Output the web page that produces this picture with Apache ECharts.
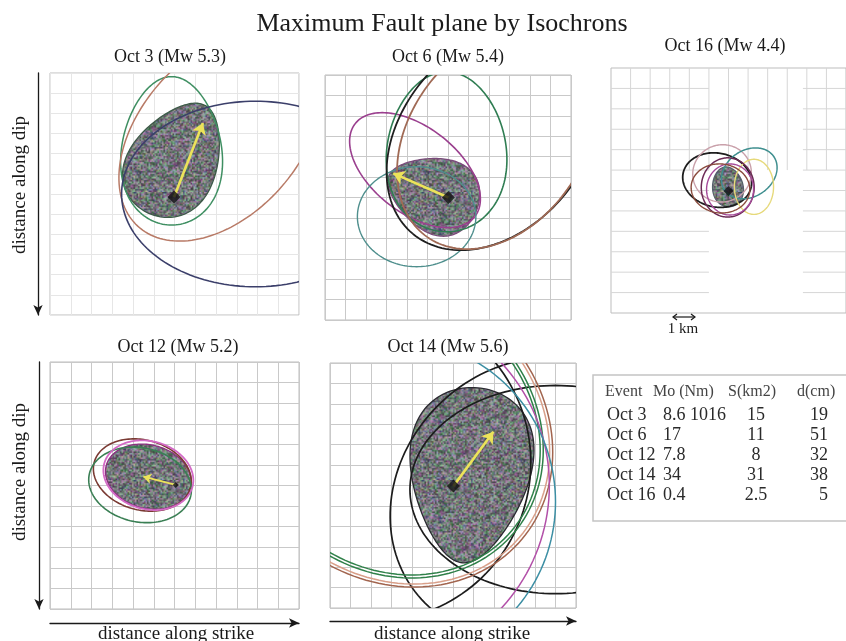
<!DOCTYPE html>
<html>
<head>
<meta charset="utf-8">
<script src="https://cdn.jsdelivr.net/npm/echarts@6/dist/echarts.min.js"></script>
<style>
  html, body { margin: 0; padding: 0; background: #ffffff; }
  #chart { width: 846px; height: 641px; }
</style>
</head>
<body>
<div id="chart"></div>
<script>
// ---- Catalogue of the five events ----
const events     = ['Oct 3', 'Oct 6', 'Oct 12', 'Oct 14', 'Oct 16'];
const magnitudes = ['5.3', '5.4', '5.2', '5.6', '4.4'];
const moments    = ['8.6 1016', '17', '7.8', '34', '0.4'];
const areas      = ['15', '11', '8', '31', '2.5'];
const slips      = ['19', '51', '32', '38', '5'];
const tableHeader = ['Event', 'Mo (Nm)', 'S(km2)', 'd(cm)'];

// ---- Isochrons, in fault-plane cells (strike x, dip y) ----
// each: [centre strike, centre dip, semi-axis a, semi-axis b, tilt deg, egg]
const oct3Isochrons = [
  [5.86, 3.86, 3.68, 2.43, -90, 0.15],
  [8.2, 3.1, 6.0, 3.9, 130, 0],
  [9.9, 6.0, 6.45, 4.6, 0, 0]
];
const oct6Isochrons = [
  [4.39, 4.66, 3.7, 2.1, 38, 0],
  [5.93, 3.76, 3.92, 2.93, -90, 0.1],
  [4.47, 6.94, 2.89, 2.45, 0, 0],
  [8.2, 3.1, 6.1, 4.45, 130, 0],
  [8.35, 3.15, 5.85, 4.25, 125, 0]
];
const oct16Isochrons = [
  [5.42, 5.49, 1.77, 1.32, 10, 0],
  [5.67, 5.16, 1.5, 1.4, -10, 0],
  [7.06, 5.16, 1.5, 1.15, -30, 0],
  [7.3, 5.82, 1.0, 1.35, 0, 0],
  [5.96, 5.85, 1.35, 1.45, 0, 0],
  [6.08, 5.95, 1.2, 1.25, 0, 0],
  [5.59, 5.9, 1.5, 1.2, 5, 0]
];
const oct12Isochrons = [
  [4.45, 5.49, 2.4, 1.7, 15, 0],
  [4.34, 5.97, 2.5, 1.8, 12, 0],
  [4.74, 5.5, 2.2, 1.65, 15, 0]
];
const oct14Isochrons = [
  [9.8, 6.6, 7.3, 6.4, -45, 0],
  [2.14, 4.92, 7.75, 7.65, 103, 0],
  [11.0, 6.2, 7.1, 5.1, 0, 0],
  [3.0, 3.3, 7.8, 6.8, 40, 0],
  [3.0, 3.3, 7.65, 6.65, 40, 0],
  [3.0, 3.3, 8.3, 7.2, 40, 0],
  [3.0, 3.3, 8.15, 7.05, 40, 0],
  [2.0, 6.0, 8.7, 8.8, 0, 0],
  [3.2, 6.8, 7.8, 7.94, 0, 0]
];

// ---- Maximum fault plane of each event (same form) ----
const oct3Plane  = [6.05, 4.25, 3.0, 2.1, -62, 0.25];
const oct6Plane  = [5.25, 5.8, 2.3, 1.8, -158, 0.3];
const oct16Plane = [5.96, 5.82, 0.98, 0.78, -100, 0.1];
const oct12Plane = [4.74, 5.57, 2.1, 1.54, 15, 0];
const oct14Plane = [6.83, 5.5, 4.3, 2.9, 95, 0.3];

// ---- Hypocentre and rupture-direction tip ----
const oct3Hypo  = [5.98, 6.15];  const oct3Tip  = [7.37, 2.48];
const oct6Hypo  = [6.02, 6.0];   const oct6Tip  = [3.33, 4.82];
const oct16Hypo = [6.0, 6.02];   const oct16Tip = null;
const oct12Hypo = [6.06, 5.97];  const oct12Tip = [4.5, 5.57];
const oct14Hypo = [6.02, 6.03];  const oct14Tip = [7.97, 3.37];

// Visible pieces of the Oct 16 mesh: [x from, x to, y from, y to, verticals, horizontals]
const oct16Mesh = [
  [0, 5, 0, 5, 1, 1],
  [5, 9, 0, 5, 1, 0],
  [9.8, 12, 0, 5, 1, 1],
  [0, 5, 5, 12, 0, 1],
  [9.8, 12, 5, 12, 0, 1]
];

// ---- Panel layout and styling ----
const panels = [
  { ev: 0, box: [50, 73, 249, 242], titleAt: [170, 57], curves: oct3Isochrons,
    colors: ['#3f8f62', '#b87a66', '#3b3f6a'], widths: [1.5, 1.5, 1.6],
    plane: oct3Plane, planeEdge: '#3d5a48', hypo: oct3Hypo, tip: oct3Tip, mark: 13,
    mesh: '#e6e6e6', dipAxis: 12, strikeAxis: 0 },
  { ev: 1, box: [325, 75, 246, 245], titleAt: [448, 57], curves: oct6Isochrons,
    colors: ['#9a3f8e', '#2f7d52', '#4f8f8d', '#1f1f1f', '#a06a55'], widths: [1.6, 1.6, 1.4, 1.8, 1.8],
    plane: oct6Plane, planeEdge: '#7a4a7a', hypo: oct6Hypo, tip: oct6Tip, mark: 13,
    mesh: '#c9c9c9', dipAxis: 0, strikeAxis: 0 },
  { ev: 4, box: [611, 68, 245, 245], titleAt: [725, 46], curves: oct16Isochrons,
    colors: ['#1e1e1e', '#c9a0aa', '#3f8f8f', '#e6d97a', '#6b2a55', '#a54a9a', '#8a4b3d'],
    widths: [1.8, 1.4, 1.5, 1.4, 1.5, 1.4, 1.4],
    plane: oct16Plane, planeEdge: '#55606a', hypo: oct16Hypo, tip: oct16Tip, mark: 10,
    mesh: null, dipAxis: 0, strikeAxis: 0 },
  { ev: 2, box: [50, 362, 249, 247], titleAt: [178, 347], curves: oct12Isochrons,
    colors: ['#7a3a33', '#3a7f54', '#d36ac6'], widths: [1.6, 1.6, 1.8],
    plane: oct12Plane, planeEdge: '#8a3080', hypo: oct12Hypo, tip: oct12Tip, mark: 6,
    mesh: '#c9c9c9', dipAxis: 11, strikeAxis: 14 },
  { ev: 3, box: [330, 363, 246, 245], titleAt: [448, 347], curves: oct14Isochrons,
    colors: ['#1c1c1c', '#1c1c1c', '#1c1c1c', '#2f8049', '#2f8049', '#a2654f', '#d9a08a', '#b24fa8', '#3b8ea3'],
    widths: [1.7, 1.7, 1.7, 1.5, 1.5, 1.5, 1.5, 1.5, 1.5],
    plane: oct14Plane, planeEdge: '#2a2a30', hypo: oct14Hypo, tip: oct14Tip, mark: 13,
    mesh: '#c9c9c9', dipAxis: 0, strikeAxis: 13 }
];

const SERIF = '"Liberation Serif", "DejaVu Serif", serif';
const STEPS = 160;

// Grainy multicolour texture used for the fault-plane fill (coarse grain, softened)
function grainTexture() {
  const half = 64;
  const src = document.createElement('canvas');
  src.width = half; src.height = half;
  const sctx = src.getContext('2d');
  const img = sctx.createImageData(half, half);
  let s = 2463534242;
  const next = () => { s = (Math.imul(s, 1664525) + 1013904223) >>> 0; return s / 4294967296; };
  for (let i = 0; i < half * half; i++) {
    const g = 62 + next() * 100;
    const tint = next();
    let r = g, gg = g, b = g + 4;
    if (tint < 0.2) { gg += 34; r -= 16; b -= 8; }
    else if (tint < 0.38) { r += 30; b += 26; gg -= 16; }
    else if (tint < 0.5) { b += 32; r -= 10; }
    else if (tint < 0.58) { r += 24; gg += 18; b -= 14; }
    img.data[i * 4] = Math.max(0, Math.min(255, r));
    img.data[i * 4 + 1] = Math.max(0, Math.min(255, gg));
    img.data[i * 4 + 2] = Math.max(0, Math.min(255, b));
    img.data[i * 4 + 3] = 255;
  }
  sctx.putImageData(img, 0, 0);
  const cv = document.createElement('canvas');
  cv.width = 96; cv.height = 96;
  const ctx = cv.getContext('2d');
  ctx.imageSmoothingEnabled = true;
  ctx.drawImage(src, 0, 0, 96, 96);
  return cv;
}
const grain = grainTexture();

// Closed outline of an (optionally egg-shaped) tilted ellipse, mapped through the axes
function outline(rec, api) {
  const cx = rec[0], cy = rec[1], a = rec[2], b = rec[3], tilt = rec[4], egg = rec[5] || 0;
  const th = tilt * Math.PI / 180, c = Math.cos(th), s = Math.sin(th);
  const pts = [];
  for (let k = 0; k <= STEPS; k++) {
    const t = 2 * Math.PI * k / STEPS;
    const lx = a * Math.cos(t);
    const ly = b * Math.sin(t) * (1 - egg * Math.cos(t));
    pts.push(api.coord([cx + lx * c - ly * s, cy + lx * s + ly * c]));
  }
  return pts;
}

const grids = [], xAxes = [], yAxes = [], series = [];

panels.forEach((p, i) => {
  const [left, top, width, height] = p.box;
  grids.push({ left: left, top: top, width: width, height: height, show: true,
    borderColor: '#bdbdbd', borderWidth: 1, backgroundColor: 'transparent', containLabel: false });

  const arrowLine = (on, sym) => ({
    show: on, onZero: false, symbol: sym, symbolSize: [7, 10],
    lineStyle: { color: '#1a1a1a', width: 1.3 }
  });

  xAxes.push({ gridIndex: i, type: 'value', min: 0, max: 12, interval: 1,
    offset: p.strikeAxis, axisLine: arrowLine(p.strikeAxis > 0, ['none', 'arrow']),
    axisTick: { show: false }, axisLabel: { show: false },
    splitLine: { show: !!p.mesh, lineStyle: { color: p.mesh || '#ccc', width: 1 } } });
  // dip grows downward; the arrow marks the deep end
  yAxes.push({ gridIndex: i, type: 'value', min: 0, max: 12, interval: 1, inverse: true,
    offset: p.dipAxis, axisLine: arrowLine(p.dipAxis > 0, ['arrow', 'none']),
    axisTick: { show: false }, axisLabel: { show: false },
    splitLine: { show: !!p.mesh, lineStyle: { color: p.mesh || '#ccc', width: 1 } } });

  // partial mesh of the Oct 16 panel
  if (!p.mesh) {
    series.push({
      type: 'custom', xAxisIndex: i, yAxisIndex: i, silent: true, z: 1,
      data: oct16Mesh,
      renderItem: (params, api) => {
        const blk = oct16Mesh[params.dataIndex];
        const kids = [];
        const style = { stroke: '#d6d6d6', lineWidth: 1 };
        if (blk[4]) {
          for (let k = Math.floor(blk[0]) + 1; k <= blk[1] && k < 12; k++) {
            const a = api.coord([k, blk[2]]), b = api.coord([k, blk[3]]);
            kids.push({ type: 'line', shape: { x1: a[0], y1: a[1], x2: b[0], y2: b[1] }, style: style });
          }
        }
        if (blk[5]) {
          for (let k = Math.floor(blk[2]) + 1; k <= blk[3] && k < 12; k++) {
            const a = api.coord([blk[0], k]), b = api.coord([blk[1], k]);
            kids.push({ type: 'line', shape: { x1: a[0], y1: a[1], x2: b[0], y2: b[1] }, style: style });
          }
        }
        return { type: 'group', children: kids };
      }
    });
  }

  // fault plane
  series.push({
    type: 'custom', xAxisIndex: i, yAxisIndex: i, silent: true, clip: true, z: 2,
    data: [p.plane],
    renderItem: (params, api) => ({
      type: 'polygon',
      shape: { points: outline(p.plane, api) },
      style: { fill: { image: grain, repeat: 'repeat' }, stroke: p.planeEdge, lineWidth: 1.3 }
    })
  });

  // isochrons
  series.push({
    type: 'custom', xAxisIndex: i, yAxisIndex: i, silent: true, clip: true, z: 3,
    data: p.curves,
    renderItem: (params, api) => {
      const j = params.dataIndex;
      return {
        type: 'polyline',
        shape: { points: outline(p.curves[j], api) },
        style: { fill: null, stroke: p.colors[j], lineWidth: p.widths[j] }
      };
    }
  });

  // rupture direction
  if (p.tip) {
    series.push({
      type: 'lines', coordinateSystem: 'cartesian2d', xAxisIndex: i, yAxisIndex: i,
      silent: true, z: 4,
      symbol: ['none', 'arrow'], symbolSize: p.mark > 8 ? 11 : 8,
      lineStyle: { color: '#ece35a', width: p.mark > 8 ? 2.6 : 2, opacity: 1 },
      data: [{ coords: [p.hypo, p.tip] }]
    });
  }

  // hypocentre
  series.push({
    type: 'scatter', xAxisIndex: i, yAxisIndex: i, silent: true, z: 5,
    symbol: 'diamond', symbolSize: p.mark,
    itemStyle: { color: '#111111' },
    data: [p.hypo]
  });
});

// ---- Text, axis captions, scale bar and summary table ----
const graphics = [];
graphics.push({ type: 'text',
  style: { text: 'Maximum Fault plane by Isochrons', x: 442, y: 24, textAlign: 'center',
    textVerticalAlign: 'middle', font: '26px ' + SERIF, fill: '#1a1a1a' } });

panels.forEach(p => {
  graphics.push({ type: 'text',
    style: { text: events[p.ev] + ' (Mw ' + magnitudes[p.ev] + ')', x: p.titleAt[0], y: p.titleAt[1],
      textAlign: 'center', textVerticalAlign: 'middle', font: '18px ' + SERIF, fill: '#1a1a1a' } });
});

[185, 472].forEach(cy => {
  graphics.push({ type: 'text', x: 20, y: cy, rotation: Math.PI / 2,
    style: { text: 'distance along dip', x: 0, y: 0, textAlign: 'center', textVerticalAlign: 'middle',
      font: '19px ' + SERIF, fill: '#1a1a1a' } });
});
[176, 452].forEach(cx => {
  graphics.push({ type: 'text',
    style: { text: 'distance along strike', x: cx, y: 634, textAlign: 'center', textVerticalAlign: 'middle',
      font: '19px ' + SERIF, fill: '#1a1a1a' } });
});

// 1 km scale bar
graphics.push({ type: 'polyline', shape: { points: [[673, 317], [695, 317]] }, style: { stroke: '#1a1a1a', lineWidth: 1.2 } });
graphics.push({ type: 'polyline', shape: { points: [[677, 314], [673, 317], [677, 320]] }, style: { stroke: '#1a1a1a', lineWidth: 1.2, fill: null } });
graphics.push({ type: 'polyline', shape: { points: [[691, 314], [695, 317], [691, 320]] }, style: { stroke: '#1a1a1a', lineWidth: 1.2, fill: null } });
graphics.push({ type: 'text', style: { text: '1 km', x: 683, y: 329, textAlign: 'center', textVerticalAlign: 'middle',
  font: '15px ' + SERIF, fill: '#1a1a1a' } });

// summary table
graphics.push({ type: 'rect', shape: { x: 593, y: 375, width: 270, height: 146 },
  style: { fill: '#ffffff', stroke: '#c4c4c4', lineWidth: 1.5 } });
const headX = [605, 653, 728, 797];
tableHeader.forEach((h, k) => {
  graphics.push({ type: 'text', style: { text: h, x: headX[k], y: 392, textAlign: 'left', textVerticalAlign: 'middle',
    font: '16px ' + SERIF, fill: '#444444' } });
});
events.forEach((ev, r) => {
  const y = 415 + r * 20;
  const cells = [[ev, 607, 'left'], [moments[r], 663, 'left'], [areas[r], 756, 'center'], [slips[r], 828, 'right']];
  cells.forEach(c => {
    graphics.push({ type: 'text', style: { text: c[0], x: c[1], y: y, textAlign: c[2], textVerticalAlign: 'middle',
      font: '18px ' + SERIF, fill: '#2a2a2a' } });
  });
});

const chart = echarts.init(document.getElementById('chart'), null, { renderer: 'canvas' });
chart.setOption({
  backgroundColor: '#ffffff',
  animation: false,
  grid: grids,
  xAxis: xAxes,
  yAxis: yAxes,
  series: series,
  graphic: { elements: graphics }
});
</script>
</body>
</html>
